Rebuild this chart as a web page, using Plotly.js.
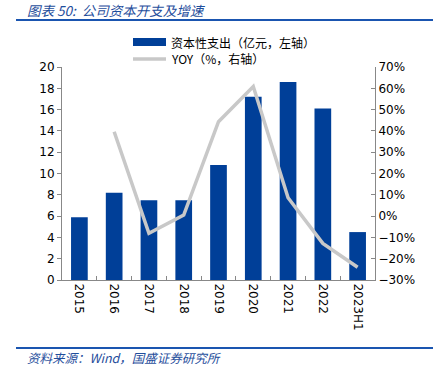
<!DOCTYPE html>
<html><head><meta charset="utf-8">
<script src="https://cdn.plot.ly/plotly-3.0.1.min.js"></script>
<style>html,body{margin:0;padding:0;background:#fff}#c{width:433px;height:375px}</style>
</head><body><div id="c"></div>
<script>
var categories = ["2015","2016","2017","2018","2019","2020","2021","2022","2023H1"];
var capex = [5.9, 8.2, 7.5, 7.5, 10.8, 17.2, 18.6, 16.1, 4.5];
var yoyCategories = ["2016","2017","2018","2019","2020","2021","2022","2023H1"];
var yoy = [39.6, -8.1, 0.5, 44.3, 60.8, 8.6, -12.8, -24.0];
var barName = "资本性支出（亿元，左轴）";
var lineName = "YOY（%，右轴）";
var titleText = "图表 50:  公司资本开支及增速";
var sourceText = "资料来源：Wind，国盛证券研究所";

var L=62,R=375,T=67,B=280;
function px(x){return (x-L)/(R-L);}
function py(y){return (B-y)/(B-T);}
var blue="#003f98", gray="#c8c8c8", txtBlue="#1f4e9c";
var tickFont={family:"DejaVu Sans, Verdana, sans-serif",size:12,color:"#000"};
var cjk="Noto Sans CJK SC, sans-serif";

var data=[
 {type:"bar",x:categories,y:capex,marker:{color:blue},width:0.48,hoverinfo:"none"},
 {type:"scatter",mode:"lines",x:yoyCategories,y:yoy,yaxis:"y2",line:{color:gray,width:3.5},hoverinfo:"none"}
];
var layout={
 width:433,height:375,margin:{l:L,r:433-R,t:T,b:375-B},
 paper_bgcolor:"#fff",plot_bgcolor:"#fff",showlegend:false,
 xaxis:{type:"category",tickangle:90,tickfont:tickFont,showline:true,linecolor:"#888",linewidth:1,
   ticks:"inside",tickson:"boundaries",ticklen:4,tickcolor:"#888",showgrid:false,zeroline:false,fixedrange:true},
 yaxis:{range:[0,20],dtick:2,tickfont:tickFont,showline:true,linecolor:"#888",ticks:"outside",ticklen:4,tickcolor:"#888",
   showgrid:false,zeroline:false,fixedrange:true},
 yaxis2:{overlaying:"y",side:"right",range:[-30,70],dtick:10,ticksuffix:"%",tickfont:tickFont,showline:true,linecolor:"#888",
   ticks:"inside",ticklen:4,tickcolor:"#888",showgrid:false,zeroline:false,fixedrange:true},
 shapes:[
  {type:"line",xref:"paper",yref:"paper",x0:px(16),x1:px(433),y0:py(20),y1:py(20),line:{color:"#1a55b0",width:2}},
  {type:"line",xref:"paper",yref:"paper",x0:px(16),x1:px(433),y0:py(348),y1:py(348),line:{color:"#1a55b0",width:2}},
  {type:"rect",xref:"paper",yref:"paper",x0:px(133),x1:px(166),y0:py(46),y1:py(38),fillcolor:blue,line:{width:0}},
  {type:"line",xref:"paper",yref:"paper",x0:px(133),x1:px(166),y0:py(59),y1:py(59),line:{color:gray,width:3.5}}
 ],
 annotations:[
  {xref:"paper",yref:"paper",x:px(25),y:py(10),xanchor:"left",yanchor:"middle",showarrow:false,
   text:"<i>"+titleText+"</i>",font:{family:cjk,size:13.5,color:txtBlue}},
  {xref:"paper",yref:"paper",x:px(25),y:py(357),xanchor:"left",yanchor:"middle",showarrow:false,
   text:"<i>"+sourceText+"</i>",font:{family:cjk,size:12.5,color:txtBlue}},
  {xref:"paper",yref:"paper",x:px(169),y:py(42),xanchor:"left",yanchor:"middle",showarrow:false,
   text:barName,font:{family:cjk,size:12,color:"#000"}},
  {xref:"paper",yref:"paper",x:px(169),y:py(59),xanchor:"left",yanchor:"middle",showarrow:false,
   text:lineName,font:{family:cjk,size:12,color:"#000"}}
 ]
};
Plotly.newPlot("c",data,layout,{displayModeBar:false,staticPlot:true});
</script></body></html>
